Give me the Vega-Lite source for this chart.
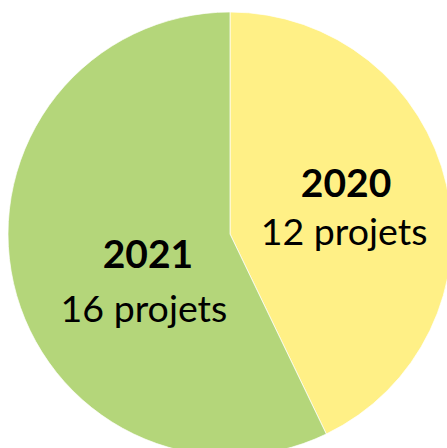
{
  "$schema": "https://vega.github.io/schema/vega-lite/v6.json",
  "width": 460,
  "height": 468,
  "autosize": "none",
  "padding": 0,
  "background": "white",
  "config": {"view": {"stroke": null}},
  "data": {"values": [
    {"year": "2020", "n": 12, "label": "12 projets"},
    {"year": "2021", "n": 16, "label": "16 projets"}
  ]},
  "encoding": {
    "theta": {"field": "n", "type": "quantitative", "stack": true},
    "order": {"field": "year", "type": "ordinal"}
  },
  "layer": [
    {
      "mark": {"type": "arc", "outerRadius": 222, "stroke": "#ffffff", "strokeWidth": 0.7},
      "encoding": {
        "color": {"field": "year", "type": "nominal", "legend": null,
          "scale": {"domain": ["2020", "2021"], "range": ["#FFF086", "#B4D67A"]}}
      }
    },
    {
      "mark": {"type": "text", "radius": 117, "font": "Lato", "fontSize": 39, "fontWeight": "bold", "baseline": "alphabetic", "align": "center", "dx": 2, "dy": -11, "color": "#000000"},
      "encoding": {"text": {"condition": {"test": "datum.year == '2020'", "field": "year"}, "value": ""}}
    },
    {
      "mark": {"type": "text", "radius": 117, "font": "Lato", "fontSize": 37.5, "baseline": "alphabetic", "align": "center", "dx": 0, "dy": 37, "color": "#000000"},
      "encoding": {"text": {"condition": {"test": "datum.year == '2020'", "field": "label"}, "value": ""}}
    },
    {
      "mark": {"type": "text", "radius": 117, "font": "Lato", "fontSize": 39, "fontWeight": "bold", "baseline": "alphabetic", "align": "center", "dx": 32, "dy": 8, "color": "#000000"},
      "encoding": {"text": {"condition": {"test": "datum.year == '2021'", "field": "year"}, "value": ""}}
    },
    {
      "mark": {"type": "text", "radius": 117, "font": "Lato", "fontSize": 37.5, "baseline": "alphabetic", "align": "center", "dx": 28, "dy": 62, "color": "#000000"},
      "encoding": {"text": {"condition": {"test": "datum.year == '2021'", "field": "label"}, "value": ""}}
    }
  ]
}
